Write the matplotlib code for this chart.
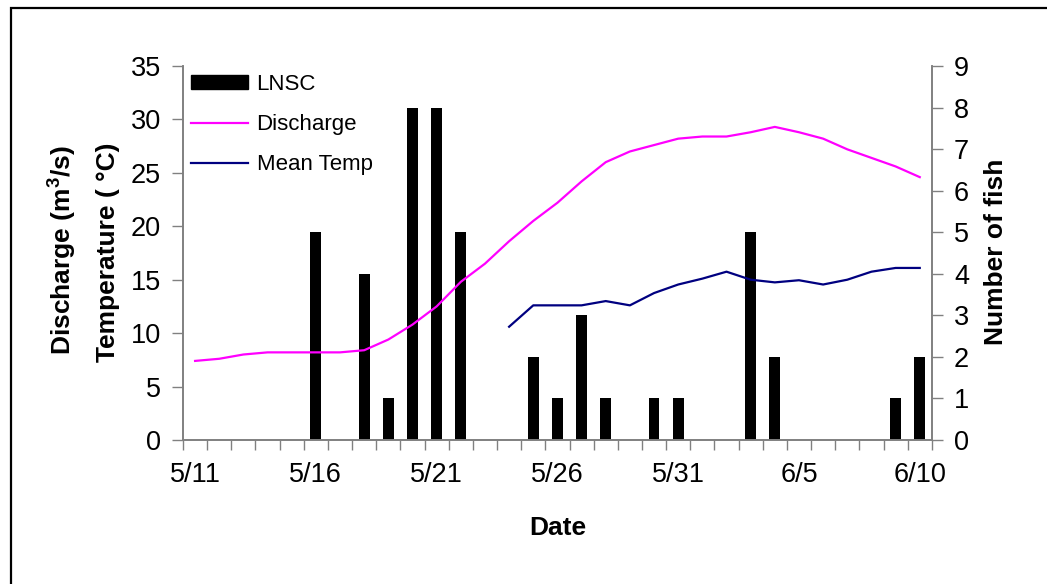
import matplotlib.pyplot as plt
import numpy as np
import pandas as pd
from matplotlib.patches import Rectangle, Patch
from matplotlib.lines import Line2D

plt.rcParams['font.family'] = ['Liberation Sans', 'DejaVu Sans']
plt.rcParams['mathtext.fontset'] = 'custom'
plt.rcParams['mathtext.rm'] = 'Liberation Sans'
plt.rcParams['mathtext.bf'] = 'Liberation Sans:bold'

dates = pd.date_range('2000-05-11', '2000-06-10', freq='D')
date_labels = [f"{d.month}/{d.day}" for d in dates]

# number of fish (LNSC) per day, right axis
lnsc = [0, 0, 0, 0, 0, 5, 0, 4, 1, 8, 8, 5, 0, 0, 2, 1,
        3, 1, 0, 1, 1, 0, 0, 5, 2, 0, 0, 0, 0, 1, 2]
# discharge (m3/s), left axis
discharge = [7.4, 7.6, 8.0, 8.2, 8.2, 8.2, 8.2, 8.4, 9.4, 10.8, 12.5,
             14.8, 16.5, 18.6, 20.5, 22.2, 24.2, 26.0, 27.0, 27.6, 28.2,
             28.4, 28.4, 28.8, 29.3, 28.8, 28.2, 27.2, 26.4, 25.6, 24.6]
# mean temperature (C), left axis; no readings before 5/24
mean_temp = [np.nan] * 13 + [10.6, 12.6, 12.6, 12.6, 13.0, 12.6, 13.75,
                             14.55, 15.1, 15.75, 15.0, 14.75, 14.95, 14.55,
                             15.0, 15.75, 16.1, 16.1]

x = np.arange(len(dates))
gray = '#808080'

fig = plt.figure(figsize=(10.47, 5.84), dpi=100)
ax = fig.add_axes([0.1748, 0.2466, 0.7152, 0.6404])
ax2 = ax.twinx()

ax2.bar(x, lnsc, width=0.45, color='black', zorder=2)
ax.plot(x, discharge, color='#FF00FF', lw=1.6, zorder=3)
ax.plot(x, mean_temp, color='#000080', lw=1.6, zorder=3)

ax.set_zorder(ax2.get_zorder() + 1)
ax.patch.set_visible(False)

ax.set_xlim(-0.5, len(dates) - 0.5)
ax.set_ylim(0, 35)
ax2.set_ylim(0, 9)
ax.set_yticks(np.arange(0, 36, 5))
ax2.set_yticks(np.arange(0, 10, 1))

ax.set_xticks(x[::5])
ax.set_xticklabels(date_labels[::5])
ax.set_xticks(np.arange(-0.5, len(dates)), minor=True)
ax.tick_params(axis='x', which='major', length=0, pad=16, labelsize=19.5)
ax.tick_params(axis='x', which='minor', length=7, width=1, color=gray)
ax.tick_params(axis='y', length=8, width=1, color=gray, pad=8, labelsize=19.5)
ax2.tick_params(axis='y', length=8, width=1, color=gray, pad=8, labelsize=19.5)

for a in (ax, ax2):
    a.spines['top'].set_visible(False)
    for s in ('left', 'right', 'bottom'):
        a.spines[s].set_color(gray)
        a.spines[s].set_linewidth(1.2)

fig.text(0.059, 0.572, 'Discharge (m$^{\\mathbf{3}}$/s)', rotation=90, ha='center',
         va='center', fontsize=19, fontweight='bold')
fig.text(0.103, 0.568, 'Temperature ( \u00b0C)', rotation=90, ha='center',
         va='center', fontsize=19, fontweight='bold')
fig.text(0.951, 0.568, 'Number of fish', rotation=90, ha='center',
         va='center', fontsize=19, fontweight='bold')
fig.text(0.533, 0.096, 'Date', ha='center', va='center', fontsize=19,
         fontweight='bold')

handles = [Patch(facecolor='black', edgecolor='black'),
           Line2D([], [], color='#FF00FF', lw=1.6),
           Line2D([], [], color='#000080', lw=1.6)]
ax.legend(handles, ['LNSC', 'Discharge', 'Mean Temp'], loc='upper left',
          bbox_to_anchor=(0.0, 1.0), frameon=False, fontsize=16,
          handlelength=2.55, handleheight=0.6, handletextpad=0.4,
          labelspacing=0.86, borderaxespad=0.0, borderpad=0.36)

fig.patches.append(Rectangle((0.0105, -0.1), 1.2, 1.0863, transform=fig.transFigure,
                             fill=False, edgecolor='black', lw=1.6))

fig.savefig('out.png', dpi=100)
